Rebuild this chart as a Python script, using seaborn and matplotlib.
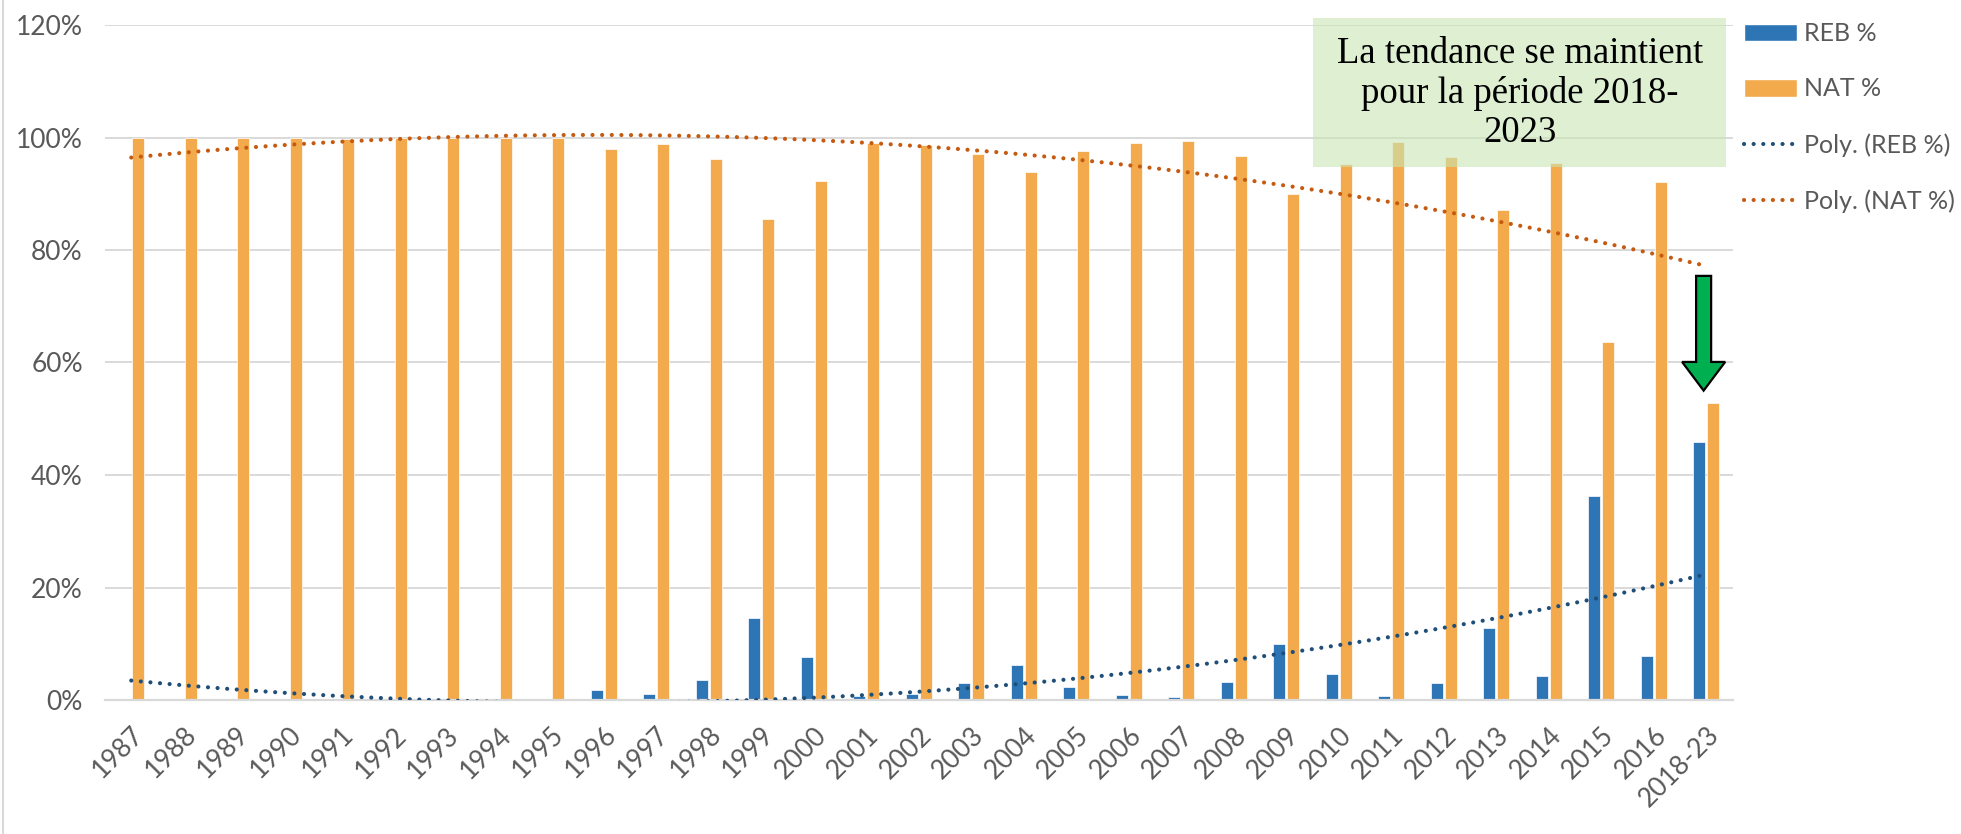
import numpy as np
import pandas as pd
import matplotlib
matplotlib.use("Agg")
import matplotlib.pyplot as plt
import seaborn as sns
from matplotlib.patches import Patch, Rectangle, FancyArrow
from matplotlib.lines import Line2D
from matplotlib.ticker import PercentFormatter

# --- data -------------------------------------------------------------
years = [str(y) for y in range(1987, 2017)] + ["2018-23"]

reb_pct = [0.0, 0.0, 0.0, 0.0, 0.0, 0.0, 0.0, 0.0, 0.0, 1.7,
           1.0, 3.6, 14.5, 7.6, 0.8, 1.1, 3.0, 6.2, 2.3, 0.9,
           0.5, 3.2, 10.0, 4.6, 0.7, 3.0, 12.8, 4.2, 36.2, 7.8,
           45.9]

nat_pct = [100.0, 100.0, 100.0, 100.0, 99.8, 100.0, 100.0, 100.0, 100.0, 98.0,
           98.9, 96.2, 85.5, 92.3, 99.0, 98.6, 97.1, 93.8, 97.6, 99.0,
           99.3, 96.8, 89.9, 95.3, 99.2, 96.6, 87.1, 95.4, 63.6, 92.1,
           52.8]

series_names = ["REB %", "NAT %"]
trend_names = ["Poly. (REB %)", "Poly. (NAT %)"]
note_lines = ["La tendance se maintient", "pour la période 2018-", "2023"]

# --- styling ----------------------------------------------------------
bar_colors = {"REB %": "#2E75B6", "NAT %": "#F2AA4C"}
trend_colors = {"REB %": "#1F4E79", "NAT %": "#C55A11"}
grey_text = "#595959"
grid_grey = "#D9D9D9"
dot_style = (0, (0.01, 2.3))
dot_lw = 3.0

sns.set_theme(style="white")
plt.rcParams["font.family"] = ["Lato", "DejaVu Sans"]

W, H = 1961, 834
fig = plt.figure(figsize=(W / 100, H / 100), dpi=100)
ax = fig.add_axes([105 / W, (H - 700) / H, (1732.5 - 105) / W, (700 - 25) / H])

df = pd.DataFrame({
    "year": years * 2,
    "series": ["REB %"] * len(years) + ["NAT %"] * len(years),
    "value": [v / 100 for v in reb_pct] + [v / 100 for v in nat_pct],
})

sns.barplot(data=df, x="year", y="value", hue="series", order=years,
            hue_order=series_names, palette=bar_colors, saturation=1,
            width=0.52, gap=0.13, errorbar=None, edgecolor="white",
            linewidth=0.5, legend=False, ax=ax, zorder=2)

# polynomial (order 2) trend lines over category positions
xpos = np.arange(len(years), dtype=float)
for name, vals in zip(series_names, [reb_pct, nat_pct]):
    sns.regplot(x=xpos, y=np.array(vals) / 100, order=2, ci=None,
                scatter=False, truncate=True, ax=ax,
                line_kws=dict(color=trend_colors[name], lw=dot_lw,
                              linestyle=dot_style,
                              dash_capstyle="round", zorder=3))

ax.set_xlim(-0.5, len(years) - 0.5)
ax.set_ylim(0, 1.2)
ax.set_yticks(np.arange(0, 1.21, 0.2))
ax.yaxis.set_major_formatter(PercentFormatter(1.0, decimals=0))
ax.set_xlabel("")
ax.set_ylabel("")
ax.grid(axis="y", color=grid_grey, lw=1.4, zorder=0)
ax.set_axisbelow(True)
for side in ["left", "right", "top"]:
    ax.spines[side].set_visible(False)
ax.spines["bottom"].set_color(grid_grey)
ax.spines["bottom"].set_linewidth(1.6)
ax.tick_params(axis="both", length=0, colors=grey_text, labelsize=19)
ax.tick_params(axis="y", pad=16)
ax.tick_params(axis="x", pad=16)
for lab in ax.get_xticklabels():
    lab.set_rotation(45)
    lab.set_ha("right")
    lab.set_va("top")
    lab.set_rotation_mode("anchor")

# annotation box with note text
box = Rectangle((22.51, 0.9476), 30.38 - 22.51, 1.2124 - 0.9476,
                facecolor="#C9E5B5", alpha=0.6, edgecolor="none",
                clip_on=False, zorder=4)
ax.add_patch(box)
ax.text(26.45, 1.079, "\n".join(note_lines), ha="center", va="center",
        multialignment="center", fontsize=26.5, linespacing=1.17,
        family=["Liberation Serif", "DejaVu Serif"], color="black", zorder=5)

# downward arrow above the last category
arrow = FancyArrow(29.95, 0.754, 0.0, -0.204, width=0.286, head_width=0.82,
                   head_length=0.051, length_includes_head=True,
                   facecolor="#00B050", edgecolor="black", lw=1.6,
                   zorder=5, clip_on=False)
ax.add_patch(arrow)

# legend
handles = [
    Patch(facecolor=bar_colors["REB %"], edgecolor="white"),
    Patch(facecolor=bar_colors["NAT %"], edgecolor="white"),
    Line2D([0], [0], color=trend_colors["REB %"], lw=dot_lw,
           linestyle=dot_style, dash_capstyle="round"),
    Line2D([0], [0], color=trend_colors["NAT %"], lw=dot_lw,
           linestyle=dot_style, dash_capstyle="round"),
]
fig.legend(handles, series_names + trend_names, loc="upper left",
           bbox_to_anchor=(1744 / W, 1 - 22 / H), frameon=False,
           fontsize=18, labelcolor=grey_text, handlelength=2.1,
           handleheight=0.7, handletextpad=0.3, labelspacing=1.3,
           borderpad=0, borderaxespad=0)

# chart-area border on the left
fig.add_artist(Line2D([3 / W, 3 / W], [0, 1], transform=fig.transFigure,
                      color=grid_grey, lw=1.5))

fig.savefig("out.png", dpi=100, facecolor="white")
